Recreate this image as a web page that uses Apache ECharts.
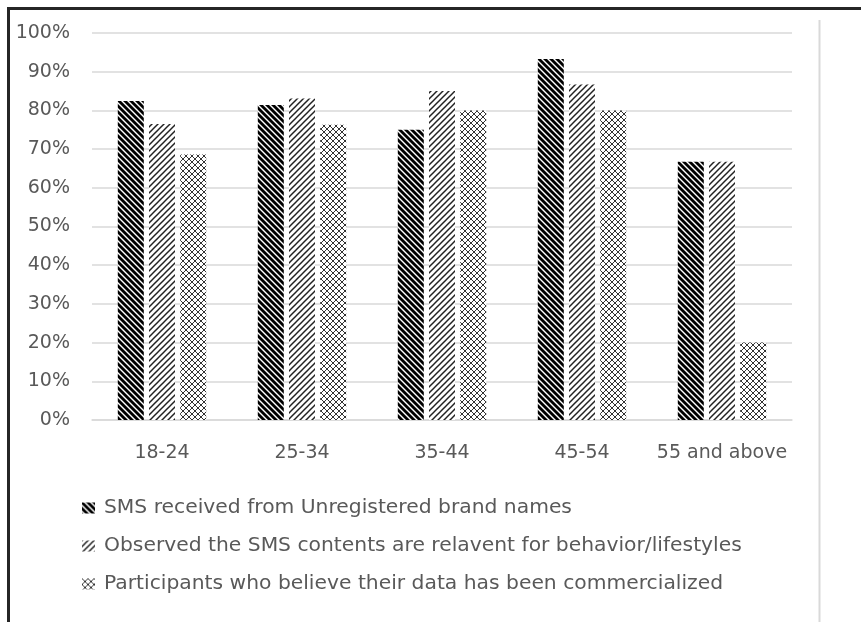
<!DOCTYPE html>
<html>
<head>
<meta charset="utf-8">
<script src="https://cdn.jsdelivr.net/npm/echarts@6/dist/echarts.min.js"></script>
<style>
  html, body { margin: 0; padding: 0; background: #fff; }
  #chart { width: 861px; height: 622px; }
</style>
</head>
<body>
<div id="chart"></div>
<script>
// Age groups on the category axis
const ageGroups = ['18-24', '25-34', '35-44', '45-54', '55 and above'];

// Share of respondents (%) per age group
const unregisteredSms = [82.4, 81.4, 75.0, 93.3, 66.7];
const relevantContent = [76.5, 83.1, 85.0, 86.7, 66.7];
const dataCommercialized = [68.6, 76.3, 80.0, 80.0, 20.0];

const seriesNames = [
  'SMS received from Unregistered brand names',
  'Observed the SMS contents are relavent for behavior/lifestyles',
  'Participants who believe their data has been commercialized'
];

// Value axis ticks
const yTicks = { min: 0, max: 100, step: 10 };

// Hatch fills, drawn on small repeating tiles
function makeTile(size, draw) {
  const c = document.createElement('canvas');
  c.width = size; c.height = size;
  const g = c.getContext('2d');
  g.fillStyle = '#fff';
  g.fillRect(0, 0, size, size);
  draw(g, size);
  return { image: c, repeat: 'repeat' };
}

// thick back-slash stripes
const hatchBack = makeTile(6, (g, s) => {
  g.strokeStyle = '#000';
  g.lineWidth = 2.8;
  for (let k = -s; k <= 2 * s; k += s) {
    g.beginPath(); g.moveTo(k - 1, -1); g.lineTo(k + s + 1, s + 1); g.stroke();
  }
});

// thin forward-slash stripes
const hatchFwd = makeTile(6, (g, s) => {
  g.strokeStyle = '#222';
  g.lineWidth = 1.5;
  for (let k = -s; k <= 2 * s; k += s) {
    g.beginPath(); g.moveTo(k + 1, -1); g.lineTo(k - s - 1, s + 1); g.stroke();
  }
});

// diamond lattice
const hatchCross = makeTile(6, (g, s) => {
  g.strokeStyle = '#333';
  g.lineWidth = 1;
  for (let k = -s; k <= 2 * s; k += s) {
    g.beginPath(); g.moveTo(k - 1, -1); g.lineTo(k + s + 1, s + 1); g.stroke();
    g.beginPath(); g.moveTo(k + 1, -1); g.lineTo(k - s - 1, s + 1); g.stroke();
  }
});

const fills = [hatchBack, hatchFwd, hatchCross];
const values = [unregisteredSms, relevantContent, dataCommercialized];

const chart = echarts.init(document.getElementById('chart'), null, { renderer: 'canvas' });

const textGray = '#595959';
const gridGray = '#d9d9d9';
const fontFamily = '"DejaVu Sans", sans-serif';

chart.setOption({
  animation: false,
  backgroundColor: '#fff',
  grid: { left: 92, right: 69, top: 33, bottom: 202, containLabel: false },
  xAxis: {
    type: 'category',
    data: ageGroups,
    axisLine: { lineStyle: { color: gridGray, width: 1.5 } },
    axisTick: { show: false },
    axisLabel: { color: textGray, fontSize: 19, fontFamily, margin: 24, interval: 0 }
  },
  yAxis: {
    type: 'value',
    min: yTicks.min,
    max: yTicks.max,
    interval: yTicks.step,
    axisLine: { show: false },
    axisTick: { show: false },
    splitLine: { lineStyle: { color: gridGray, width: 1.5 } },
    axisLabel: { color: textGray, fontSize: 19, fontFamily, margin: 22, formatter: '{value}%' }
  },
  legend: {
    orient: 'vertical',
    left: 82,
    top: 498,
    padding: 0,
    itemWidth: 13,
    itemHeight: 11,
    itemGap: 18,
    icon: 'rect',
    data: seriesNames,
    textStyle: { color: textGray, fontSize: 20.3, fontFamily, padding: [0, 0, 0, 4] }
  },
  graphic: [
    { type: 'line', shape: { x1: 8.5, y1: 7, x2: 8.5, y2: 622 }, style: { stroke: '#262626', lineWidth: 3 }, silent: true },
    { type: 'line', shape: { x1: 7, y1: 8.5, x2: 861, y2: 8.5 }, style: { stroke: '#262626', lineWidth: 3 }, silent: true },
    { type: 'line', shape: { x1: 819.5, y1: 20, x2: 819.5, y2: 622 }, style: { stroke: gridGray, lineWidth: 2 }, silent: true }
  ],
  series: seriesNames.map((name, i) => ({
    name,
    type: 'bar',
    data: values[i],
    barWidth: 26,
    barGap: '20%',
    itemStyle: { color: fills[i] }
  }))
});
</script>
</body>
</html>
